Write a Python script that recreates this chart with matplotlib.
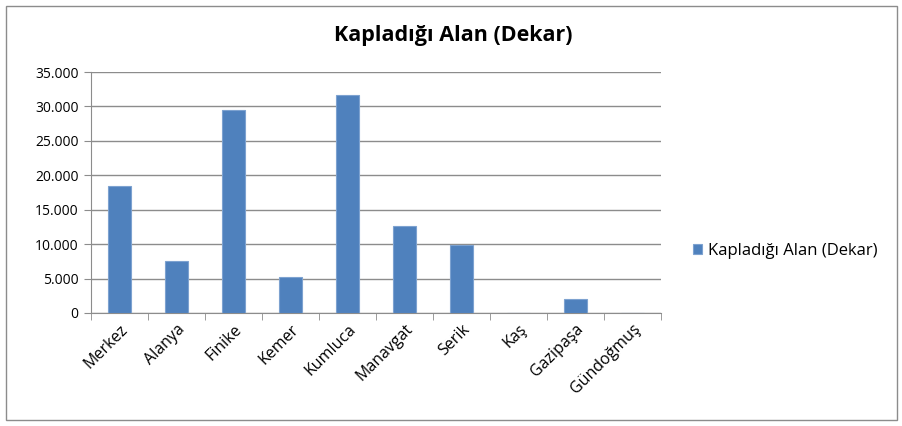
import matplotlib
matplotlib.use("Agg")
import matplotlib.pyplot as plt
from matplotlib.ticker import FuncFormatter, MultipleLocator, FixedLocator
from matplotlib.patches import Rectangle

plt.rcParams['font.family'] = ['Open Sans', 'DejaVu Sans']

# Veriler
ilceler = ["Merkez", "Alanya", "Finike", "Kemer", "Kumluca",
           "Manavgat", "Serik", "Kaş", "Gazipaşa", "Gündoğmuş"]
alan = [18500, 7600, 29500, 5200, 31700, 12600, 9900, 0, 2000, 0]
seri_adi = "Kapladığı Alan (Dekar)"

fig = plt.figure(figsize=(9.03, 4.26), dpi=100)
W, H = 903, 426
ax = fig.add_axes([91 / W, 1 - 313 / H, (661 - 91) / W, (313 - 72) / H])

x = list(range(len(ilceler)))
ax.bar(x, alan, width=0.4, color="#4F81BD", edgecolor="#7DA2D0", linewidth=0.8,
       label=seri_adi, zorder=3)

ax.set_xlim(-0.5, len(ilceler) - 0.5)
ax.set_ylim(0, 35000)
ax.yaxis.set_major_locator(MultipleLocator(5000))
ax.yaxis.set_major_formatter(FuncFormatter(lambda v, p: f"{int(v):,}".replace(",", ".")))
ax.grid(axis="y", color="#8C8C8C", linewidth=1, zorder=0)

ax.set_xticks(x)
ax.set_xticklabels(ilceler, rotation=45, ha="right", rotation_mode="anchor", fontsize=11.5)
ax.tick_params(axis="x", length=0, pad=6)
ax.xaxis.set_minor_locator(FixedLocator([i - 0.5 for i in range(len(ilceler) + 1)]))
ax.tick_params(axis="x", which="minor", length=5, color="#8C8C8C", direction="out")
ax.tick_params(axis="y", length=5, color="#8C8C8C", labelsize=10, pad=4)

for s in ["top", "right"]:
    ax.spines[s].set_visible(False)
for s in ["left", "bottom"]:
    ax.spines[s].set_color("#8C8C8C")

fig.text(453 / W, 1 - 35 / H, seri_adi, ha="center", va="center",
         fontsize=15.5, fontweight="bold")

ax.legend(loc="center left", bbox_to_anchor=(678 / W, 1 - 251 / H),
          bbox_transform=fig.transFigure, frameon=False, fontsize=12,
          handlelength=0.55, handleheight=0.55, handletextpad=0.35)

fig.patches.append(Rectangle((6 / W, 6 / H), (W - 12) / W, (H - 12) / H,
                             transform=fig.transFigure, fill=False,
                             edgecolor="#8C8C8C", linewidth=1))

fig.savefig("out.png", dpi=100)
